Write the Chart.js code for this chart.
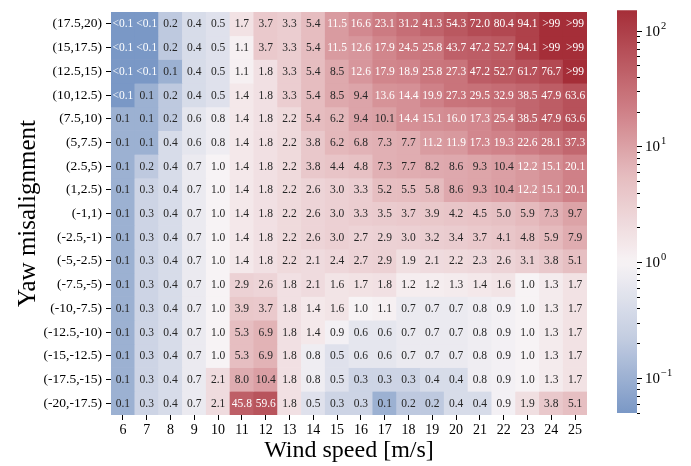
<!DOCTYPE html>
<html>
<head>
<meta charset="utf-8">
<script src="https://cdn.jsdelivr.net/npm/chart.js@4.4.1/dist/chart.umd.min.js"></script>
<style>
  html, body { margin: 0; padding: 0; background: #fff; }
  #wrap { position: relative; width: 691px; height: 466px; }
  #heat, #cbar { position: absolute; top: 0; }
  #heat { left: 0; }
  #cbar { left: 600px; }
</style>
</head>
<body>
<div id="wrap">
  <canvas id="heat" width="691" height="466"></canvas>
  <canvas id="cbar" width="91" height="466"></canvas>
</div>
<script>
// x 軸：風速
const windSpeeds = ['6', '7', '8', '9', '10', '11', '12', '13', '14', '15',
                    '16', '17', '18', '19', '20', '21', '22', '23', '24', '25'];

// y 軸：偏航角區間 (由上而下)
const yawBins = ['(17.5,20)', '(15,17.5)', '(12.5,15)', '(10,12.5)', '(7.5,10)', '(5,7.5)',
                 '(2.5,5)', '(1,2.5)', '(-1,1)', '(-2.5,-1)', '(-5,-2.5)', '(-7.5,-5)',
                 '(-10,-7.5)', '(-12.5,-10)', '(-15,-12.5)', '(-17.5,-15)', '(-20,-17.5)'];

// 每格顯示的數值 (一列對應一個偏航區間)
const cellText = [
  ['<0.1','<0.1','0.2','0.4','0.5','1.7','3.7','3.3','5.4','11.5','16.6','23.1','31.2','41.3','54.3','72.0','80.4','94.1','>99','>99'],
  ['<0.1','<0.1','0.2','0.4','0.5','1.1','3.7','3.3','5.4','11.5','12.6','17.9','24.5','25.8','43.7','47.2','52.7','94.1','>99','>99'],
  ['<0.1','<0.1','0.1','0.4','0.5','1.1','1.8','3.3','5.4','8.5','12.6','17.9','18.9','25.8','27.3','47.2','52.7','61.7','76.7','>99'],
  ['<0.1','0.1','0.2','0.4','0.5','1.4','1.8','3.3','5.4','8.5','9.4','13.6','14.4','19.9','27.3','29.5','32.9','38.5','47.9','63.6'],
  ['0.1','0.1','0.2','0.6','0.8','1.4','1.8','2.2','5.4','6.2','9.4','10.1','14.4','15.1','16.0','17.3','25.4','38.5','47.9','63.6'],
  ['0.1','0.1','0.4','0.6','0.8','1.4','1.8','2.2','3.8','6.2','6.8','7.3','7.7','11.2','11.9','17.3','19.3','22.6','28.1','37.3'],
  ['0.1','0.2','0.4','0.7','1.0','1.4','1.8','2.2','3.8','4.4','4.8','7.3','7.7','8.2','8.6','9.3','10.4','12.2','15.1','20.1'],
  ['0.1','0.3','0.4','0.7','1.0','1.4','1.8','2.2','2.6','3.0','3.3','5.2','5.5','5.8','8.6','9.3','10.4','12.2','15.1','20.1'],
  ['0.1','0.3','0.4','0.7','1.0','1.4','1.8','2.2','2.6','3.0','3.3','3.5','3.7','3.9','4.2','4.5','5.0','5.9','7.3','9.7'],
  ['0.1','0.3','0.4','0.7','1.0','1.4','1.8','2.2','2.6','3.0','2.7','2.9','3.0','3.2','3.4','3.7','4.1','4.8','5.9','7.9'],
  ['0.1','0.3','0.4','0.7','1.0','1.4','1.8','2.2','2.1','2.4','2.7','2.9','1.9','2.1','2.2','2.3','2.6','3.1','3.8','5.1'],
  ['0.1','0.3','0.4','0.7','1.0','2.9','2.6','1.8','2.1','1.6','1.7','1.8','1.2','1.2','1.3','1.4','1.6','1.0','1.3','1.7'],
  ['0.1','0.3','0.4','0.7','1.0','3.9','3.7','1.8','1.4','1.6','1.0','1.1','0.7','0.7','0.7','0.8','0.9','1.0','1.3','1.7'],
  ['0.1','0.3','0.4','0.7','1.0','5.3','6.9','1.8','1.4','0.9','0.6','0.6','0.7','0.7','0.7','0.8','0.9','1.0','1.3','1.7'],
  ['0.1','0.3','0.4','0.7','1.0','5.3','6.9','1.8','0.8','0.5','0.6','0.6','0.7','0.7','0.7','0.8','0.9','1.0','1.3','1.7'],
  ['0.1','0.3','0.4','0.7','2.1','8.0','10.4','1.8','0.8','0.5','0.3','0.3','0.3','0.4','0.4','0.8','0.9','1.0','1.3','1.7'],
  ['0.1','0.3','0.4','0.7','2.1','45.8','59.6','1.8','0.5','0.3','0.3','0.1','0.2','0.2','0.4','0.4','0.9','1.9','3.8','5.1']
];

// 色階上下限 (讀自色條)
const LOW = 0.05;
const HIGH = 150;
const FONT = '"Liberation Serif", "DejaVu Serif", serif';

// 色階節點 (t: 0 = 白, 1 = 端點)
const redStops = [[0, [247, 243, 245]], [0.35, [229, 187, 190]], [0.6, [207, 128, 135]], [1, [165, 46, 56]]];
const blueStops = [[0, [247, 243, 245]], [0.5, [195, 205, 225]], [1, [122, 152, 198]]];

function cellValue(s) {
  if (s[0] === '<') return LOW;
  if (s[0] === '>') return HIGH;
  return parseFloat(s);
}

function colorFor(v) {
  const l = Math.log10(v);
  let t, stops;
  if (l >= 0) {
    t = Math.min(1, l / Math.log10(HIGH));
    stops = redStops;
  } else {
    t = Math.min(1, l / Math.log10(LOW));
    stops = blueStops;
  }
  for (let i = 1; i < stops.length; i++) {
    if (t <= stops[i][0]) {
      const [t0, c0] = stops[i - 1];
      const [t1, c1] = stops[i];
      const f = (t - t0) / (t1 - t0);
      const c = c0.map((a, k) => Math.round(a + (c1[k] - a) * f));
      return `rgb(${c[0]},${c[1]},${c[2]})`;
    }
  }
  const c = stops[stops.length - 1][1];
  return `rgb(${c[0]},${c[1]},${c[2]})`;
}

const nRows = yawBins.length;

// 每一列為一個 dataset，以浮動長條畫出格子
const datasets = cellText.map((row, r) => ({
  label: yawBins[r],
  data: row.map(() => [nRows - 1 - r, nRows - r]),
  backgroundColor: row.map(s => colorFor(cellValue(s))),
  borderWidth: 0,
  barPercentage: 1,
  categoryPercentage: 1,
  grouped: false
}));

// 格內數字
const cellLabels = {
  id: 'cellLabels',
  afterDatasetsDraw(chart) {
    const ctx = chart.ctx;
    ctx.save();
    ctx.font = '11.5px ' + FONT;
    ctx.textAlign = 'center';
    ctx.textBaseline = 'middle';
    chart.data.datasets.forEach((ds, r) => {
      chart.getDatasetMeta(r).data.forEach((bar, c) => {
        const s = cellText[r][c];
        const v = cellValue(s);
        ctx.fillStyle = (v > 11 || v < 0.1) ? '#ffffff' : '#262626';
        const p = bar.getCenterPoint();
        ctx.fillText(s, p.x, p.y + 0.5);
      });
    });
    ctx.restore();
  }
};

new Chart(document.getElementById('heat'), {
  type: 'bar',
  data: { labels: windSpeeds, datasets: datasets },
  options: {
    responsive: false,
    animation: false,
    layout: { padding: { top: 3, right: 104, left: 0, bottom: 0 } },
    plugins: { legend: { display: false }, tooltip: { enabled: false } },
    scales: {
      x: {
        type: 'category',
        offset: true,
        grid: { offset: false, drawOnChartArea: false, drawTicks: true, tickLength: 5, color: '#000', tickWidth: 1 },
        border: { display: false },
        ticks: { color: '#000', font: { family: FONT, size: 14 }, padding: 2, maxRotation: 0, autoSkip: false },
        title: { display: true, text: 'Wind speed [m/s]', color: '#000', font: { family: FONT, size: 24 }, padding: { top: 0, bottom: 1 } },
        afterFit(s) { s.height = 51; }
      },
      y: {
        type: 'linear',
        min: 0,
        max: nRows,
        afterBuildTicks(s) { s.ticks = yawBins.map((_, r) => ({ value: nRows - r - 0.5 })); },
        grid: { drawOnChartArea: false, drawTicks: true, tickLength: 5, color: '#000', tickWidth: 1 },
        border: { display: false },
        ticks: {
          color: '#000',
          font: { family: FONT, size: 13.5 },
          padding: 4,
          autoSkip: false,
          callback: v => yawBins[Math.round(nRows - 0.5 - v)]
        },
        title: { display: true, text: 'Yaw misalignment', color: '#000', font: { family: FONT, size: 25 }, padding: { top: 13, bottom: 0 } },
        afterFit(s) { s.width = 111; }
      }
    }
  },
  plugins: [cellLabels]
});

// 色條
function barGradient(chart) {
  const area = chart.chartArea;
  if (!area) return colorFor(1);
  const g = chart.ctx.createLinearGradient(0, area.bottom, 0, area.top);
  const l0 = Math.log10(LOW), l1 = Math.log10(HIGH);
  for (let i = 0; i <= 60; i++) {
    g.addColorStop(i / 60, colorFor(Math.pow(10, l0 + (l1 - l0) * i / 60)));
  }
  return g;
}

const cbTicks = {
  id: 'cbTicks',
  afterDraw(chart) {
    const s = chart.scales.y;
    const ctx = chart.ctx;
    const x0 = chart.chartArea.right;
    ctx.save();
    ctx.strokeStyle = '#000';
    ctx.lineWidth = 1;
    for (let e = -2; e <= 2; e++) {
      for (let m = 1; m <= 9; m++) {
        const v = m * Math.pow(10, e);
        if (v < LOW || v > HIGH) continue;
        const y = Math.round(s.getPixelForValue(v)) + 0.5;
        ctx.beginPath();
        ctx.moveTo(x0, y);
        ctx.lineTo(x0 + (m === 1 ? 5 : 3), y);
        ctx.stroke();
        if (m === 1) {
          ctx.fillStyle = '#000';
          ctx.textBaseline = 'middle';
          ctx.textAlign = 'left';
          ctx.font = '15px ' + FONT;
          ctx.fillText('10', x0 + 8, y + 1);
          const w = ctx.measureText('10').width;
          ctx.font = '10.5px ' + FONT;
          ctx.fillText(e < 0 ? '\u2212' + (-e) : String(e), x0 + 8 + w + 1, y - 5);
        }
      }
    }
    ctx.restore();
  }
};

new Chart(document.getElementById('cbar'), {
  type: 'bar',
  data: {
    labels: [''],
    datasets: [{
      data: [[LOW, HIGH]],
      backgroundColor: ctx => barGradient(ctx.chart),
      borderWidth: 0,
      barPercentage: 1,
      categoryPercentage: 1
    }]
  },
  options: {
    responsive: false,
    animation: false,
    layout: { padding: { left: 17, top: 2, bottom: 53, right: 0 } },
    plugins: { legend: { display: false }, tooltip: { enabled: false } },
    scales: {
      x: { display: false },
      y: {
        type: 'logarithmic',
        position: 'right',
        min: LOW,
        max: HIGH,
        grid: { display: false },
        border: { display: false },
        ticks: { callback: () => '' },
        afterFit(s) { s.width = 54; }
      }
    }
  },
  plugins: [cbTicks]
});
</script>
</body>
</html>
